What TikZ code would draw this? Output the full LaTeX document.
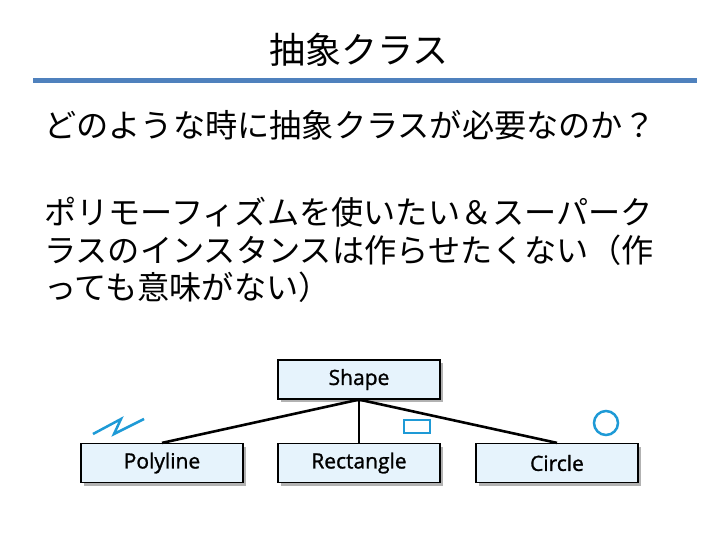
\documentclass[tikz,border=0pt]{standalone}
\usepackage{fontspec}
\newfontfamily\cjk{Noto Sans CJK JP}
\newfontfamily\lab[FakeBold=1.2]{Open Sans}
\definecolor{boxfill}{HTML}{E6F3FC}
\definecolor{bar}{HTML}{4F81BD}
\definecolor{sym}{HTML}{1E9AD6}
\begin{document}
\begin{tikzpicture}[x=1pt,y=-1pt,
  cls/.style={draw=black,line width=1.2pt,fill=boxfill,minimum width=162pt,minimum height=39pt,inner sep=0pt,font=\lab\fontsize{21}{24}\selectfont,
    preaction={fill=black!30,transform canvas={xshift=3pt,yshift=-3pt}}},
  body/.style={anchor=west,font=\cjk\fontsize{32.2}{36}\selectfont,inner sep=0pt},
  link/.style={line width=2.6pt},
  symb/.style={draw=sym,line width=2.5pt}]
\useasboundingbox (0,0) rectangle (720,540);
\node[font=\cjk\fontsize{36}{40}\selectfont] (title) at (359,50) {抽象クラス};
\fill[bar] (33,78) rectangle (697,83);
\node[body] (l1) at (44,125) {どのような時に抽象クラスが必要なのか？};
\node[body] (l2) at (44,212) {ポリモーフィズムを使いたい＆スーパーク};
\node[body] (l3) at (44,250) {ラスのインスタンスは作らせたくない（作};
\node[body] (l4) at (44,287) {っても意味がない）};
\node[cls] (shape) at (359,379.5) {Shape};
\node[cls] (poly) at (162,463) {Polyline};
\node[cls] (rect) at (359,463) {Rectangle};
\node[cls] (circ) at (557,463) {Circle};
\draw[link] (shape.south) -- (poly.north);
\draw[link] (shape.south) -- (rect.north);
\draw[link] (shape.south) -- (circ.north);
\draw[symb] (93,434) -- (121,419) -- (114,434) -- (144,419);
\draw[symb] (404,420) rectangle (430,433);
\draw[symb] (606,423) circle (12);
\end{tikzpicture}
\end{document}
